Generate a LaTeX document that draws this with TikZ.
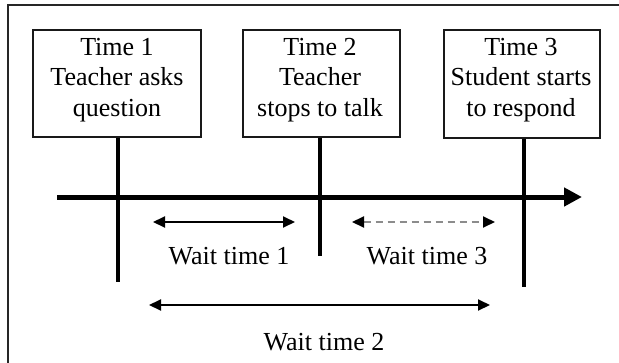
\documentclass[tikz,border=0pt]{standalone}
\usepackage{fontspec}
\setmainfont{Liberation Serif}
\usetikzlibrary{arrows.meta}
\begin{document}
\begin{tikzpicture}[x=1pt,y=-1pt,
  frame/.style={draw=black!85,line width=1.6pt},
  timebox/.style={draw=black!90,line width=1.5pt,fill=white,inner sep=0pt,anchor=north west},
  boxtext/.style={inner sep=0pt,anchor=base,align=center,font=\fontsize{26}{30.5}\selectfont},
  lbl/.style={inner sep=0pt,anchor=base,font=\fontsize{26}{30.5}\selectfont},
  stem/.style={line width=4pt},
  axis/.style={line width=5pt,-{Triangle[length=18pt,width=18pt]}},
  span/.style={line width=2pt,{Triangle[length=12pt,width=11pt]}-{Triangle[length=12pt,width=11pt]}},
  dspan/.style={line width=2pt,draw=black!45,dash pattern=on 7pt off 5pt,
    {Triangle[length=12pt,width=11pt,color=black]}-{Triangle[length=12pt,width=11pt,color=black]}}]
\useasboundingbox (0,0) rectangle (619,362);
\begin{scope}
  \clip (0,0) rectangle (619,362);
  \draw[frame] (8,5) rectangle (640,390);
\end{scope}

% stems from each box down past the time line
\coordinate (s1) at (118,282);
\coordinate (s2) at (320,256);
\coordinate (s3) at (524,287);

\node[timebox,minimum width=168,minimum height=107] (b1) at (32,29) {};
\node[timebox,minimum width=157,minimum height=107] (b2) at (242,29) {};
\node[timebox,minimum width=156,minimum height=108] (b3) at (443,29) {};

\draw[stem] (b1.south -| s1) -- (s1);
\draw[stem] (b2.south -| s2) -- (s2);
\draw[stem] (b3.south -| s3) -- (s3);

% box captions (anchor at the baseline of the last line)
\node[boxtext] (t1) at (117,116) {Time 1\\Teacher asks\\question};
\node[boxtext] (t2) at (320,116) {Time 2\\Teacher\\stops to talk};
\node[boxtext] (t3) at (521,116) {Time 3\\Student starts\\to respond};

% time line
\coordinate (a0) at (57,197);
\coordinate (a1) at (582,197);
\draw[axis] (a0) -- (a1);

% wait-time spans
\coordinate (w1a) at (153,222); \coordinate (w1b) at (295,222);
\coordinate (w3a) at (352,222); \coordinate (w3b) at (495,222);
\coordinate (w2a) at (149,305); \coordinate (w2b) at (490,305);
\draw[span] (w1a) -- (w1b);
\draw[dspan] (w3a) -- (w3b);
\draw[span] (w2a) -- (w2b);

\node[lbl] (l1) at (229,264) {Wait time 1};
\node[lbl] (l3) at (427,264) {Wait time 3};
\node[lbl] (l2) at (324,350) {Wait time 2};
\end{tikzpicture}
\end{document}
